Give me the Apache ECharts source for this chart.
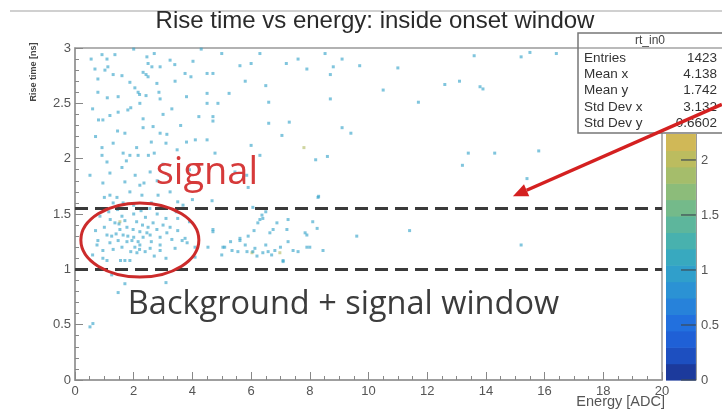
<!DOCTYPE html>
<html><head><meta charset="utf-8">
<script src="https://cdn.jsdelivr.net/npm/echarts@6/dist/echarts.min.js"></script>
<style>html,body{margin:0;padding:0;background:#fff}#c{width:722px;height:412px}</style>
</head><body><div id="c"></div>
<script>
// ---------- data ----------
const titleText = 'Rise time vs energy: inside onset window';
const xAxisTitle = 'Energy [ADC]';
const yAxisTitle = 'Rise time [ns]';
const statsName = 'rt_in0';
const statsLabels = ['Entries', 'Mean x', 'Mean y', 'Std Dev x', 'Std Dev y'];
const statsValues = ['1423', '4.138', '1.742', '3.132', '0.6602'];
const windowLines = [1.55, 1.0];
const colorbarMax = 2.236;
const colorbarTicks = [0, 0.5, 1, 1.5, 2];
const palette = ['#1c3a9c','#1d4fc0','#1f60d6','#2270de','#2782da','#2b92d4','#309fcb','#38a9bf',
                 '#48b1ae','#5db69c','#74ba8a','#8cbc7a','#a5bd6b','#bcbc5f','#d0b857'];

// [energy, rise time, bin content (default 1)]
const pointsUpperLeft = [
 [0.92,2.94],[1.36,2.94],[2.0,2.99],[1.09,2.9],[0.68,2.81],[1.02,2.8],[1.12,2.83],[1.3,2.76],[0.78,2.72],
 [2.45,2.92],[2.49,2.86],[2.62,2.83],[2.9,2.83],[2.32,2.78],[2.42,2.76],[2.49,2.74],[3.41,2.7],[3.75,2.77],
 [3.95,2.74],[1.87,2.69],[2.04,2.64],[2.15,2.6],[2.2,2.58],[0.78,2.6],[2.79,2.68],[2.86,2.6],[2.9,2.54],
 [2.42,2.57],[2.21,2.5],[1.47,2.56],[1.8,2.44],[1.9,2.46],[1.47,2.42],[1.19,2.39],[0.95,2.35],[2.32,2.36],
 [2.32,2.28],[2.66,2.29],[2.9,2.23],[1.7,2.23],[3.13,2.22],[3.24,2.89],[3.4,2.85],[3.8,2.56],[3.1,2.14],
 [3.48,2.08],[3.8,2.15],[3.9,1.9],[0.92,2.1],[1.3,2.14],[0.92,2.03],[1.64,2.05],[1.87,2.03],[2.1,2.1],
 [2.15,2.03],[2.5,2.03],[1.09,1.97],[1.6,1.92],[1.19,1.87],[2.56,1.88],[0.51,1.85],[0.95,1.78],[1.7,1.79],
 [2.21,1.76],[2.35,1.78],[1.19,1.67],[1.43,1.65],[1.87,1.7],[2.28,1.67],[2.83,1.67],[3.24,1.7],[3.5,1.61],
 [3.68,1.58],[1.3,1.6],[1.64,1.6],[0.6,2.45],[1.6,2.75],[2.7,2.95],[3.0,2.4],[3.3,2.45],[2.6,2.15],
 [3.0,1.95],[2.8,1.8],[0.7,2.2],[1.45,2.25],[1.0,1.65],[2.0,1.58],[2.6,1.6],[3.2,1.85],[1.75,1.98],
 [0.55,2.9],[0.8,2.35],[2.05,1.85],[2.7,2.05],[1.1,2.55],[3.6,2.3]
];
const pointsUpperMid = [
 [4.02,2.88],[4.5,2.77],[5.62,2.84],[6.0,2.86],[4.7,2.77],[5.8,2.7],[4.5,2.59],[4.5,2.5],[4.87,2.5],
 [5.25,2.59],[6.5,2.66],[6.6,2.51],[7.2,2.86],[7.6,2.9],[7.9,2.81],[4.22,2.38],[4.7,2.38],[4.7,2.34],
 [6.6,2.32],[7.3,2.33],[7.05,2.21],[4.1,2.17],[4.5,2.17],[6.0,2.12],[4.77,2.05],[6.3,2.03],[5.45,1.88],
 [5.85,1.85],[5.9,1.74],[4.0,1.63],[4.67,1.62],[6.06,1.56],[8.28,1.65],[8.52,2.95],[8.8,2.83],[8.7,2.76],
 [8.7,2.54],[8.2,1.99],[8.6,2.02],[8.3,1.66],[5.0,2.95],[6.3,2.95],[4.3,2.99],[7.8,2.1,2]
];
const pointsFarRight = [
 [9.1,2.9],[9.7,2.84],[11.0,2.82],[13.6,2.93],[15.2,2.92],[15.5,2.96],[16.4,2.95],[12.6,2.67],[13.1,2.7],
 [13.8,2.65],[13.9,2.63],[10.5,2.62],[11.7,2.51],[9.1,2.28],[9.4,2.23],[13.4,2.05],[14.3,2.05],[15.8,2.07],
 [13.2,1.94],[15.4,1.82],[11.4,1.35],[15.2,1.22],[9.6,1.3]
];
const pointsLowCluster = [
 [1.36,1.42],[1.53,1.43,2],[1.53,1.36],[1.64,1.31],[1.47,1.26],[1.77,1.25],[1.94,1.26],[2.15,1.25],[2.21,1.22],
 [2.04,1.2],[2.32,1.29],[2.49,1.38],[2.66,1.42],[2.79,1.36],[2.9,1.29],[3.24,1.38],[3.5,1.46],[3.75,1.28],
 [3.82,1.24],[1.09,1.31],[0.78,1.26],[0.75,1.22],[1.19,1.24],[0.95,1.17],[1.7,1.08],[1.87,1.08],[1.55,1.08],
 [1.09,1.08],[2.39,1.16],[2.56,1.19],[2.9,1.17],[3.41,1.19],[3.65,1.26],[2.11,1.15],[3.13,1.33],[2.21,1.34],
 [1.98,1.36],[1.77,1.38],[2.56,1.31],[4.09,1.2],[4.7,1.34],[4.09,1.11],[4.53,1.2],[0.95,1.1],
 [1.2,1.45],[1.6,1.48],[2.0,1.5],[2.4,1.47],[2.8,1.5],[3.1,1.46],[1.0,1.38],[1.4,1.32],[1.8,1.3],[2.3,1.4],
 [2.6,1.25],[3.0,1.4],[3.3,1.27],[1.3,1.18],[1.6,1.2],[1.9,1.16],[2.7,1.12],[3.1,1.1],[0.7,1.35],[1.5,1.41],
 [2.1,1.43],[2.45,1.33],[2.0,1.29],[1.7,1.44],[2.9,1.22],[3.5,1.35],[1.25,1.3],[2.2,1.18],[3.9,1.43],
 [0.6,1.13],[1.15,1.52],[1.45,1.54],[2.25,1.53],[2.55,1.55],[3.45,1.52],[0.85,1.48]
];
const pointsMidCluster = [
 [4.7,1.36],[5.1,1.2],[5.0,1.13],[5.35,1.17],[5.62,1.28],[5.55,1.16],[5.86,1.16],[6.03,1.15,2],[6.13,1.19],
 [6.3,1.45],[6.37,1.49],[6.23,1.42],[6.88,1.42],[6.64,1.33],[6.58,1.16],[6.81,1.17],[6.98,1.15,2],[7.09,1.08],
 [7.26,1.25],[7.26,1.45],[7.9,1.31],[8.0,1.2],[8.25,1.37],[8.45,1.17],[7.6,1.16],[5.04,1.2],[5.62,1.26],
 [6.06,1.16],[6.4,1.15],[7.43,1.17],[7.9,1.2],[7.09,1.07],[6.4,1.46],[6.75,1.36],[7.22,1.36],[7.84,1.33],
 [8.1,1.43],[6.5,1.22],[5.8,1.22],[5.3,1.25],[6.2,1.12],[6.7,1.13],[7.0,1.2],[5.9,1.3],[6.5,1.52],[6.1,1.35]
];
const pointsBelow = [[1.47,0.79],[1.7,0.87],[3.1,0.88],[0.61,0.51],[0.51,0.48],[1.25,0.95]];

// annotation anchors (data coordinates)
const signalLabel = {text: 'signal', x: 2.75, y: 1.87};
const windowLabel = {text: 'Background + signal window', x: 1.8, y: 0.68};
const ellipseBox = {x0: 0.2, x1: 4.22, y0: 0.93, y1: 1.6};
const arrowTail = [22.04, 2.49], arrowTip = [14.92, 1.66];

// ---------- chart ----------
const allPoints = [].concat(pointsUpperLeft, pointsUpperMid, pointsFarRight, pointsLowCluster, pointsMidCluster, pointsBelow)
  .map(p => [p[0], p[1], p.length > 2 ? p[2] : 1]);
const bands = palette.map((c, i) => [i * colorbarMax / palette.length, (i + 1) * colorbarMax / palette.length, i]);

const FONT = 'Liberation Sans';
const chart = echarts.init(document.getElementById('c'), null, {renderer: 'canvas'});
chart.setOption({
  animation: false,
  backgroundColor: '#fff',
  title: {text: titleText, left: 370, top: 4, textAlign: 'center',
    textStyle: {fontFamily: FONT, fontSize: 24, fontWeight: 'normal', color: '#2a2a2a'}},
  grid: [
    {left: 75, top: 48, width: 587, height: 332, show: true, borderColor: '#999', borderWidth: 1.5, backgroundColor: 'transparent'},
    {left: 666, top: 134, width: 37, height: 246, show: false}
  ],
  xAxis: [
    {gridIndex: 0, type: 'value', min: 0, max: 20, interval: 2,
      axisLine: {lineStyle: {color: '#999', width: 1.5}},
      axisTick: {inside: true, length: 8, lineStyle: {color: '#888'}},
      minorTick: {show: true, splitNumber: 4, length: 4, lineStyle: {color: '#888'}},
      splitLine: {show: false},
      axisLabel: {fontFamily: FONT, fontSize: 13, color: '#555', margin: 5}},
    {gridIndex: 1, type: 'value', min: 0, max: 1, show: false}
  ],
  yAxis: [
    {gridIndex: 0, type: 'value', min: 0, max: 3, interval: 0.5,
      axisLine: {lineStyle: {color: '#999', width: 1.5}},
      axisTick: {inside: true, length: 8, lineStyle: {color: '#888'}},
      minorTick: {show: true, splitNumber: 5, length: 4, lineStyle: {color: '#888'}},
      splitLine: {show: false},
      axisLabel: {fontFamily: FONT, fontSize: 13, color: '#555', margin: 4}},
    {gridIndex: 1, type: 'value', min: 0, max: colorbarMax, interval: 0.5, position: 'right', z: 10,
      axisLine: {show: true, onZero: false, lineStyle: {color: '#999', width: 1}},
      axisTick: {show: false},
      splitLine: {show: false},
      axisLabel: {fontFamily: FONT, fontSize: 13, color: '#555', margin: 5, showMaxLabel: false}}
  ],
  visualMap: {show: false, type: 'continuous', min: 0, max: colorbarMax, dimension: 2, seriesIndex: 0,
    inRange: {color: palette}},
  series: [
    {type: 'scatter', xAxisIndex: 0, yAxisIndex: 0, data: allPoints, symbol: 'rect', symbolSize: 3,
      itemStyle: {opacity: 0.62}, silent: true, z: 2,
      markLine: {silent: true, symbol: 'none', label: {show: false},
        lineStyle: {type: [13, 7], color: '#3a3a3a', width: 3, opacity: 1},
        data: windowLines.map(v => ({yAxis: v}))}},
    {type: 'custom', xAxisIndex: 1, yAxisIndex: 1, data: bands, silent: true, z: 1,
      encode: {y: [0, 1]},
      renderItem: function (params, api) {
        const lo = api.coord([0, api.value(0)]);
        const hi = api.coord([1, api.value(1)]);
        return {type: 'rect', shape: {x: lo[0], y: hi[1], width: hi[0] - lo[0], height: lo[1] - hi[1] + 0.6},
          style: {fill: palette[api.value(2)]}};
      }},
    // colorbar tick marks (inside the bar, at its right edge)
    {type: 'custom', xAxisIndex: 1, yAxisIndex: 1, data: colorbarTicks.map(v => [v]), silent: true, z: 3,
      encode: {y: 0},
      renderItem: function (params, api) {
        const r = api.coord([1, api.value(0)]);
        const l = api.coord([0.5, api.value(0)]);
        return {type: 'line', shape: {x1: l[0], y1: r[1], x2: r[0], y2: r[1]},
          style: {stroke: '#3d4a55', lineWidth: 1.2}};
      }}
  ]
});

// linear data->pixel mapping (extrapolates beyond the axis range)
const pA = chart.convertToPixel({xAxisIndex: 0, yAxisIndex: 0}, [0, 0]);
const pB = chart.convertToPixel({xAxisIndex: 0, yAxisIndex: 0}, [20, 3]);
const px = p => [pA[0] + (pB[0] - pA[0]) * p[0] / 20, pA[1] + (pB[1] - pA[1]) * p[1] / 3];
const e0 = px([ellipseBox.x0, ellipseBox.y0]), e1 = px([ellipseBox.x1, ellipseBox.y1]);
const tail = px(arrowTail), tip = px(arrowTip);
const dx = tip[0] - tail[0], dy = tip[1] - tail[1], L = Math.hypot(dx, dy);
const ux = dx / L, uy = dy / L, headLen = 15, headW = 6.5;
const base = [tip[0] - ux * headLen, tip[1] - uy * headLen];
const sLab = px([signalLabel.x, signalLabel.y]), wLab = px([windowLabel.x, windowLabel.y]);

const statsX = 578, statsY = 33, statsW = 150, statsH = 100, headH = 15;
const statsEls = [
  {type: 'rect', shape: {x: statsX, y: statsY, width: statsW, height: statsH}, style: {fill: '#fff', stroke: '#777', lineWidth: 1.5}},
  {type: 'line', shape: {x1: statsX, y1: statsY + headH, x2: statsX + statsW, y2: statsY + headH}, style: {stroke: '#777', lineWidth: 1.2}},
  {type: 'text', x: 650, y: statsY + headH / 2 + 0.5, style: {text: statsName, font: '12px ' + FONT, fill: '#444', textAlign: 'center', textVerticalAlign: 'middle'}}
];
statsLabels.forEach((lab, i) => {
  const yy = 58 + i * 16.3;
  statsEls.push({type: 'text', x: 584, y: yy, style: {text: lab, font: '13.5px ' + FONT, fill: '#333', textAlign: 'left', textVerticalAlign: 'middle'}});
  statsEls.push({type: 'text', x: 717, y: yy, style: {text: statsValues[i], font: '13.5px ' + FONT, fill: '#333', textAlign: 'right', textVerticalAlign: 'middle'}});
});

chart.setOption({
  graphic: [
    {type: 'line', shape: {x1: 10, y1: 11, x2: 722, y2: 11}, style: {stroke: '#d0d0d0', lineWidth: 2}, z: 5},
    {type: 'group', z: 50, children: statsEls},
    {type: 'text', x: 34, y: 72, rotation: Math.PI / 2, z: 5,
      style: {text: yAxisTitle, font: 'bold 9px ' + FONT, fill: '#444', textAlign: 'center', textVerticalAlign: 'middle'}},
    {type: 'text', x: 665, y: 402, z: 5,
      style: {text: xAxisTitle, font: '14.5px ' + FONT, fill: '#555', textAlign: 'right', textVerticalAlign: 'middle'}},
    {type: 'ellipse', z: 60, shape: {cx: (e0[0] + e1[0]) / 2, cy: (e0[1] + e1[1]) / 2, rx: Math.abs(e1[0] - e0[0]) / 2, ry: Math.abs(e1[1] - e0[1]) / 2},
      style: {fill: 'none', stroke: '#cc2b2b', lineWidth: 3}},
    {type: 'text', x: sLab[0], y: sLab[1], z: 60,
      style: {text: signalLabel.text, font: '38px "Open Sans"', fill: '#d63a3a', textAlign: 'left', textVerticalAlign: 'middle'}},
    {type: 'text', x: wLab[0], y: wLab[1], z: 60,
      style: {text: windowLabel.text, font: '32.5px "Open Sans"', fill: '#3c3c3c', textAlign: 'left', textVerticalAlign: 'middle'}},
    {type: 'line', z: 70, shape: {x1: tail[0], y1: tail[1], x2: base[0], y2: base[1]}, style: {stroke: '#d42020', lineWidth: 3.5}},
    {type: 'polygon', z: 70, shape: {points: [tip, [base[0] - uy * headW, base[1] + ux * headW], [base[0] + uy * headW, base[1] - ux * headW]]},
      style: {fill: '#d42020'}}
  ]
});
</script></body></html>
